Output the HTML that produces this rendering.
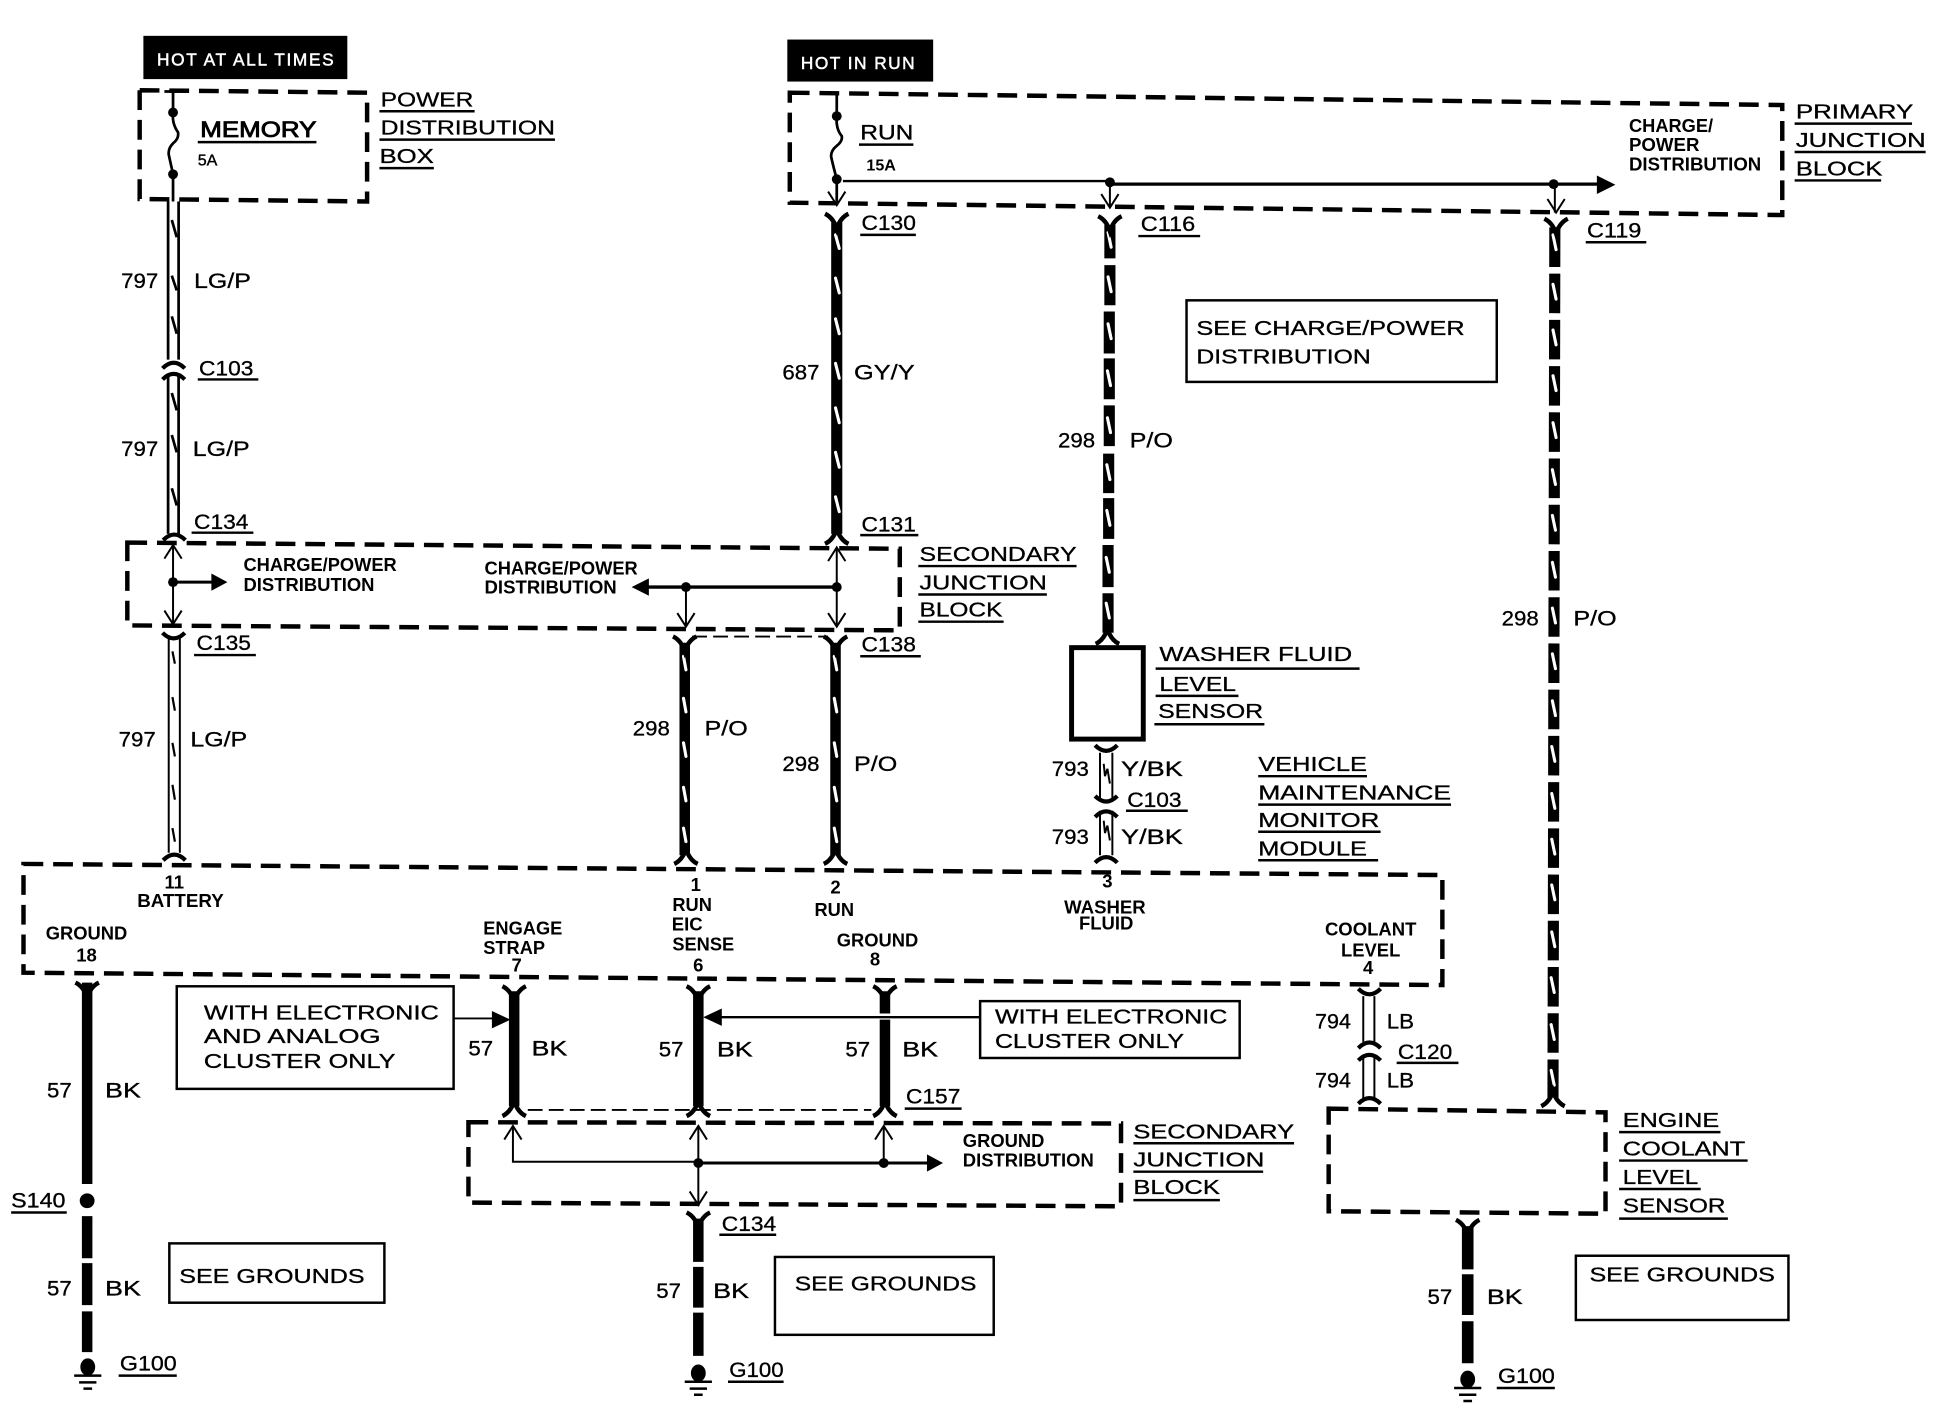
<!DOCTYPE html>
<html><head><meta charset="utf-8"><title>Wiring diagram</title>
<style>
html,body{margin:0;padding:0;background:#fff}
svg{display:block}
text{font-family:"Liberation Sans",sans-serif;fill:#000}
.l{font-size:16.500px;stroke:#000;stroke-width:.25}
.w{font-size:17px;stroke:#000;stroke-width:.25}
.b{font-size:15px;font-weight:bold}
.m{font-size:15px;font-weight:bold;text-anchor:middle}
.u{stroke:#000;stroke-width:2;fill:none}
.d{fill:none;stroke:#000;stroke-width:3.6;stroke-dasharray:16 8}
.t{fill:none;stroke:#000;stroke-width:1.6}
.n{fill:none;stroke:#000;stroke-width:2.200}
.bx{fill:#fff;stroke:#000;stroke-width:2}
</style></head><body>
<svg xmlns="http://www.w3.org/2000/svg" width="1938" height="1408" viewBox="0 0 1568 1139.2">
<defs>
<path id="fd" d="M-9.500,-7 Q-3,-4 0,5 Q3,-4 9.500,-7" fill="none" stroke="#000" stroke-width="3.6"/>
<path id="fu" d="M-9.500,7 Q-3,4 0,-5 Q3,4 9.500,7" fill="none" stroke="#000" stroke-width="3.6"/>
<path id="cn" d="M-9,4 Q0,-5 9,4" fill="none" stroke="#000" stroke-width="3.4"/>
<path id="cv" d="M-9,-4 Q0,5 9,-4" fill="none" stroke="#000" stroke-width="3.4"/>
<path id="au" d="M-7,11 L0,0 L7,11" fill="none" stroke="#000" stroke-width="1.6"/>
<path id="ad" d="M-7,-11 L0,0 L7,-11" fill="none" stroke="#000" stroke-width="1.6"/>
<g id="gnd"><ellipse cx="0" cy="-6" rx="6" ry="7"/><path d="M-11,1h22M-7,6.500h14M-3.500,11.500h7" stroke="#000" stroke-width="2"/></g>
</defs>

<rect x="116" y="29" width="165" height="35"/>
<text x="127" y="53" font-size="14" textLength="143" style="fill:#fff;stroke:#fff;stroke-width:.4">HOT AT ALL TIMES</text>
<rect x="637" y="32" width="118" height="34"/>
<text x="648" y="56" font-size="14" textLength="92" style="fill:#fff;stroke:#fff;stroke-width:.4">HOT IN RUN</text>

<!-- dashed boxes -->
<path class="d" d="M113,73 L297,75 L297,163 L113,161 Z"/>
<path class="d" d="M639,75 L1442,85 L1442,174 L639,164 Z"/>
<path class="d" d="M103,439 L728,444 L728,510 L103,506 Z"/>
<path class="d" d="M19,699 L1167,708 L1167,797 L19,787 Z"/>
<path class="d" d="M379,908 L907,909 L907,976 L379,973 Z"/>
<path class="d" d="M1075,897 L1299,900 L1299,982 L1075,980 Z"/>
<path d="M560,515H670M427,898H705" fill="none" stroke="#000" stroke-width="1.500" stroke-dasharray="12 5"/>

<!-- fuses -->
<path class="n" d="M133,74H150M140,74V91 Q139,100 144,107 Q145,112 140,116 Q136,120 136.500,125 Q138,132 140,141V163"/>
<circle cx="140" cy="91" r="4"/><circle cx="140" cy="141" r="4"/>
<path class="n" d="M677,76V94 Q676,104 681,110 Q682,114 677,118 Q672,122 672.500,127 Q674,134 677,145V165"/>
<circle cx="677" cy="94" r="4"/><circle cx="677" cy="145" r="4"/>
<use href="#ad" x="677" y="166"/>

<!-- primary bus -->
<path d="M682,146.500H898" fill="none" stroke="#000" stroke-width="2"/>
<path d="M898,149H1295" fill="none" stroke="#000" stroke-width="2.600"/>
<path d="M1292,142 L1307,149.500 L1292,157Z"/>
<circle cx="898" cy="147.500" r="4"/><circle cx="1257" cy="149" r="4"/>
<path class="t" d="M898,147V168M1258,149V172"/>
<use href="#ad" x="898" y="168"/><use href="#ad" x="1259" y="172"/>

<!-- thin double wires -->
<path class="n" d="M136,163V291M144.500,163V291M136,303V432M144.500,303V432"/>
<path class="t" d="M136.500,514V690M145.500,514V690"/>
<g fill="none" stroke="#000" stroke-width="2.200">
<path d="M139,178l4,14M139,223l4,12M139,256l4,14M139,318l4,14M139,352l4,14M139,395l4,14"/>
<path stroke-width="1.800" d="M139.500,527l2,10M139.500,564l2,11M139.500,601l2,11M139.500,635l2,12M139.500,670l2,11"/>
</g>
<use href="#cn" x="140.500" y="294"/><use href="#cn" x="140.500" y="303"/>
<use href="#cn" x="141" y="433"/><use href="#cv" x="140.500" y="516"/><use href="#cn" x="141" y="692"/>

<!-- thick wires -->
<g stroke="#000" fill="none">
<path stroke-width="9" d="M677,180V432"/>
<path stroke-width="8.500" d="M554,520V692M676,520V692"/>
<path stroke-width="9" d="M898,182V209M898,214.500V247M897.500,252V286M897.500,290V323M897.500,328V361M897,367V399M897,403V436M896.500,441V475M896.500,480V512"/>
<line x1="1258" y1="184" x2="1256.500" y2="888" stroke-width="9" stroke-dasharray="32 5.400"/>
<path stroke-width="8.500" d="M70.500,795V958M70.500,984V1018M70.500,1022V1056M70.500,1061V1094"/>
<path stroke-width="8.500" d="M416,802V895M565,802V895M716,802V820M716,825V895"/>
<path stroke-width="8.500" d="M565,986V1021M565,1025V1058M565,1062V1097"/>
<path stroke-width="9.400" d="M1187.500,992V1027M1187.500,1031V1064M1187.500,1069V1103"/>
</g>
<g stroke="#fff" stroke-width="2.500" fill="none" stroke-linecap="round">
<path d="M676,190l3,11M676,225l3,12M676,258l3,12M676,294l3,12M676,330l3,12M676,366l3,12M676,402l3,12"/>
<path d="M553,531l2,11M553,565l2,11M553,601l2,11M553,637l2,11M553,670l2,11M675,531l2,11M675,565l2,11M675,601l2,11M675,637l2,11M675,670l2,11"/>
<path d="M896.500,188l2.500,12M896.500,224l2.500,12M896.500,262l2.500,12M896,300l2.500,12M896,338l2.500,12M895.500,376l2.500,12M895.500,413l2.500,12M895,451l2.500,12M895,488l2.500,12"/>
<path d="M1256.500,190l2.500,12M1256.500,230l2.500,12M1256.500,267l2.500,12M1256.500,304l2.500,12M1256.500,342l2.500,12M1256,380l2.500,12M1256,417l2.500,12M1256,455l2.500,12M1256,492l2.500,12M1256,529l2.500,12M1256,567l2.500,12M1255.500,604l2.500,12M1255.500,642l2.500,12M1255.500,679l2.500,12M1255.500,716l2.500,12M1255.500,754l2.500,12M1255,791l2.500,12M1255,829l2.500,12M1255,866l2.500,12"/>
</g>
<use href="#fd" x="677" y="180"/><use href="#fd" x="898" y="182"/><use href="#fd" x="1259" y="184"/>
<use href="#fu" x="677" y="433"/>
<use href="#fd" x="554" y="522"/><use href="#fd" x="676" y="522"/>
<use href="#fu" x="555" y="692"/><use href="#fu" x="676" y="692"/>
<use href="#fu" x="896" y="514"/>
<use href="#fu" x="1256.500" y="888"/>
<use href="#fd" x="70.500" y="802"/>
<use href="#fd" x="416" y="805"/><use href="#fd" x="565" y="805"/><use href="#fd" x="716" y="805"/>
<use href="#fu" x="416" y="896"/><use href="#fu" x="565" y="896"/><use href="#fu" x="716" y="896"/>
<use href="#fd" x="565" y="988"/><use href="#fd" x="1187.500" y="994"/>
<circle cx="70.500" cy="971.500" r="6"/>
<use href="#gnd" x="71" y="1112"/><use href="#gnd" x="565" y="1117"/><use href="#gnd" x="1187.500" y="1122"/>

<!-- secondary junction interior -->
<path class="t" d="M140,442V505M677,444V507M555,475V507"/>
<use href="#au" x="140" y="441"/><use href="#ad" x="140" y="505"/>
<use href="#au" x="677" y="443"/><use href="#ad" x="677" y="507"/><use href="#ad" x="555" y="507"/>
<path d="M140,471H172" stroke="#000" stroke-width="2.400"/>
<path d="M171,464 L184,471 L171,478Z"/>
<circle cx="140" cy="471" r="4"/>
<path d="M522,475H677" stroke="#000" stroke-width="2.800"/>
<path d="M525,468 L511,475 L525,482Z"/>
<circle cx="555" cy="475" r="4"/><circle cx="677" cy="475" r="4"/>

<!-- sensor and small wires -->
<rect x="867" y="524" width="58" height="74" fill="#fff" stroke="#000" stroke-width="4"/>
<path class="t" d="M890,609V646M900,609V646M890,656V692M900,656V692"/>
<path class="t" d="M893,618l1,10l2,-6l2,12M893,664l1,10l2,-6l2,12"/>
<use href="#cv" x="895" y="607"/><use href="#cv" x="895" y="648"/><use href="#cn" x="895" y="657"/><use href="#cn" x="895" y="694"/>
<path class="t" d="M1103,806V843M1112,806V843M1103,856V890M1112,856V890"/>
<use href="#cv" x="1108" y="804"/><use href="#cn" x="1108" y="844"/><use href="#cn" x="1108" y="854"/><use href="#cn" x="1108" y="889"/>

<!-- note boxes -->
<rect class="bx" x="143" y="798" width="224" height="83"/>
<rect class="bx" x="793" y="810" width="210" height="46"/>
<rect class="bx" x="960" y="243" width="251" height="66"/>
<rect class="bx" x="137" y="1006" width="174" height="48"/>
<rect class="bx" x="627" y="1017" width="177" height="63"/>
<rect class="bx" x="1275" y="1016" width="172" height="52"/>
<path d="M367,824H402" stroke="#000" stroke-width="1.600"/>
<path d="M398,818 L413,825 L398,832Z"/>
<path d="M582,823H793" stroke="#000" stroke-width="2"/>
<path d="M584,816 L569,823 L584,830Z"/>

<!-- ground distribution -->
<path class="t" d="M415,912V940H565M565,912V975M715,912V941"/>
<use href="#au" x="415" y="911"/><use href="#au" x="565" y="911"/><use href="#au" x="715" y="911"/><use href="#ad" x="565" y="975"/>
<path d="M565,941H752" stroke="#000" stroke-width="2.400"/>
<path d="M750,934 L763,941 L750,948Z"/>
<circle cx="565" cy="941" r="4"/><circle cx="715" cy="941" r="4"/>

<!-- underlines -->
<path class="u" d="M307,90H384M307,113H449M307,136H351M160,115H256M160,307H209M155,431H205M157,530H207M695,117H739M696,190H741M921,191H971M1283,196H1332M1452,100H1547M1452,123H1558M1452,146H1522M696,433H743M696,531H745M743,458H871M743,481H847M743,503H812M935,541H1100M935,563H1002M934,586H1023M911,656H961M1018,628H1106M1018,651H1174M1018,673H1117M1018,696H1115M732,897H778M917,925H1047M917,948H1022M917,971H987M582,999H628M9,981H54M96,1113H143M589,1118H634M1211,1123H1258M1310,916H1392M1310,939H1414M1310,962H1376M1310,986H1398M1130,860H1180"/>

<!-- headings -->
<g class="l">
<text x="308" y="86" textLength="75" lengthAdjust="spacingAndGlyphs">POWER</text>
<text x="308" y="109" textLength="141" lengthAdjust="spacingAndGlyphs">DISTRIBUTION</text>
<text x="307" y="132" textLength="44" lengthAdjust="spacingAndGlyphs">BOX</text>
<text x="162" y="111" font-size="18" textLength="94" lengthAdjust="spacingAndGlyphs" style="stroke-width:.7">MEMORY</text>
<text x="696" y="113" font-size="17" textLength="43" lengthAdjust="spacingAndGlyphs">RUN</text>
<text x="1453" y="96" textLength="95" lengthAdjust="spacingAndGlyphs">PRIMARY</text>
<text x="1453" y="119" textLength="105" lengthAdjust="spacingAndGlyphs">JUNCTION</text>
<text x="1453" y="142" textLength="70" lengthAdjust="spacingAndGlyphs">BLOCK</text>
<text x="744" y="454" textLength="127" lengthAdjust="spacingAndGlyphs">SECONDARY</text>
<text x="744" y="477" textLength="103" lengthAdjust="spacingAndGlyphs">JUNCTION</text>
<text x="744" y="499" textLength="67" lengthAdjust="spacingAndGlyphs">BLOCK</text>
<text x="938" y="535" textLength="156" lengthAdjust="spacingAndGlyphs">WASHER FLUID</text>
<text x="938" y="559" textLength="62" lengthAdjust="spacingAndGlyphs">LEVEL</text>
<text x="937" y="581" textLength="85" lengthAdjust="spacingAndGlyphs">SENSOR</text>
<text x="1018" y="624" textLength="88" lengthAdjust="spacingAndGlyphs">VEHICLE</text>
<text x="1018" y="647" textLength="156" lengthAdjust="spacingAndGlyphs">MAINTENANCE</text>
<text x="1018" y="669" textLength="98" lengthAdjust="spacingAndGlyphs">MONITOR</text>
<text x="1018" y="692" textLength="88" lengthAdjust="spacingAndGlyphs">MODULE</text>
<text x="968" y="271" textLength="217" lengthAdjust="spacingAndGlyphs">SEE CHARGE/POWER</text>
<text x="968" y="294" textLength="141" lengthAdjust="spacingAndGlyphs">DISTRIBUTION</text>
<text x="165" y="825" textLength="190" lengthAdjust="spacingAndGlyphs">WITH ELECTRONIC</text>
<text x="165" y="844" textLength="143" lengthAdjust="spacingAndGlyphs">AND ANALOG</text>
<text x="165" y="864" textLength="155" lengthAdjust="spacingAndGlyphs">CLUSTER ONLY</text>
<text x="805" y="828" textLength="188" lengthAdjust="spacingAndGlyphs">WITH ELECTRONIC</text>
<text x="805" y="848" textLength="153" lengthAdjust="spacingAndGlyphs">CLUSTER ONLY</text>
<text x="917" y="921" textLength="130" lengthAdjust="spacingAndGlyphs">SECONDARY</text>
<text x="917" y="944" textLength="106" lengthAdjust="spacingAndGlyphs">JUNCTION</text>
<text x="917" y="966" textLength="70" lengthAdjust="spacingAndGlyphs">BLOCK</text>
<text x="1313" y="912" textLength="78" lengthAdjust="spacingAndGlyphs">ENGINE</text>
<text x="1313" y="935" textLength="99" lengthAdjust="spacingAndGlyphs">COOLANT</text>
<text x="1313" y="958" textLength="61" lengthAdjust="spacingAndGlyphs">LEVEL</text>
<text x="1313" y="981" textLength="83" lengthAdjust="spacingAndGlyphs">SENSOR</text>
<text x="145" y="1038" textLength="150" lengthAdjust="spacingAndGlyphs">SEE GROUNDS</text>
<text x="643" y="1044" textLength="147" lengthAdjust="spacingAndGlyphs">SEE GROUNDS</text>
<text x="1286" y="1037" textLength="150" lengthAdjust="spacingAndGlyphs">SEE GROUNDS</text>
</g>

<!-- wire labels -->
<g class="w">
<text x="98" y="233" textLength="30" lengthAdjust="spacingAndGlyphs">797</text><text x="157" y="233" textLength="46" lengthAdjust="spacingAndGlyphs">LG/P</text>
<text x="98" y="369" textLength="30" lengthAdjust="spacingAndGlyphs">797</text><text x="156" y="369" textLength="46" lengthAdjust="spacingAndGlyphs">LG/P</text>
<text x="96" y="604" textLength="30" lengthAdjust="spacingAndGlyphs">797</text><text x="154" y="604" textLength="46" lengthAdjust="spacingAndGlyphs">LG/P</text>
<text x="633" y="307" textLength="30" lengthAdjust="spacingAndGlyphs">687</text><text x="691" y="307" textLength="49" lengthAdjust="spacingAndGlyphs">GY/Y</text>
<text x="856" y="362" textLength="30" lengthAdjust="spacingAndGlyphs">298</text><text x="914" y="362" textLength="35" lengthAdjust="spacingAndGlyphs">P/O</text>
<text x="512" y="595" textLength="30" lengthAdjust="spacingAndGlyphs">298</text><text x="570" y="595" textLength="35" lengthAdjust="spacingAndGlyphs">P/O</text>
<text x="633" y="624" textLength="30" lengthAdjust="spacingAndGlyphs">298</text><text x="691" y="624" textLength="35" lengthAdjust="spacingAndGlyphs">P/O</text>
<text x="1215" y="506" textLength="30" lengthAdjust="spacingAndGlyphs">298</text><text x="1273" y="506" textLength="35" lengthAdjust="spacingAndGlyphs">P/O</text>
<text x="851" y="628" textLength="30" lengthAdjust="spacingAndGlyphs">793</text><text x="907" y="628" textLength="50" lengthAdjust="spacingAndGlyphs">Y/BK</text>
<text x="851" y="683" textLength="30" lengthAdjust="spacingAndGlyphs">793</text><text x="907" y="683" textLength="50" lengthAdjust="spacingAndGlyphs">Y/BK</text>
<text x="1064" y="832" textLength="29" lengthAdjust="spacingAndGlyphs">794</text><text x="1122" y="832" textLength="22" lengthAdjust="spacingAndGlyphs">LB</text>
<text x="1064" y="880" textLength="29" lengthAdjust="spacingAndGlyphs">794</text><text x="1122" y="880" textLength="22" lengthAdjust="spacingAndGlyphs">LB</text>
<text x="379" y="854" textLength="20" lengthAdjust="spacingAndGlyphs">57</text><text x="430" y="854" textLength="29" lengthAdjust="spacingAndGlyphs">BK</text>
<text x="533" y="855" textLength="20" lengthAdjust="spacingAndGlyphs">57</text><text x="580" y="855" textLength="29" lengthAdjust="spacingAndGlyphs">BK</text>
<text x="684" y="855" textLength="20" lengthAdjust="spacingAndGlyphs">57</text><text x="730" y="855" textLength="29" lengthAdjust="spacingAndGlyphs">BK</text>
<text x="38" y="888" textLength="20" lengthAdjust="spacingAndGlyphs">57</text><text x="85" y="888" textLength="29" lengthAdjust="spacingAndGlyphs">BK</text>
<text x="38" y="1048" textLength="20" lengthAdjust="spacingAndGlyphs">57</text><text x="85" y="1048" textLength="29" lengthAdjust="spacingAndGlyphs">BK</text>
<text x="531" y="1050" textLength="20" lengthAdjust="spacingAndGlyphs">57</text><text x="577" y="1050" textLength="29" lengthAdjust="spacingAndGlyphs">BK</text>
<text x="1155" y="1055" textLength="20" lengthAdjust="spacingAndGlyphs">57</text><text x="1203" y="1055" textLength="29" lengthAdjust="spacingAndGlyphs">BK</text>
<text x="161" y="304" textLength="44" lengthAdjust="spacingAndGlyphs">C103</text>
<text x="157" y="428" textLength="44" lengthAdjust="spacingAndGlyphs">C134</text>
<text x="159" y="526" textLength="44" lengthAdjust="spacingAndGlyphs">C135</text>
<text x="697" y="186" textLength="44" lengthAdjust="spacingAndGlyphs">C130</text>
<text x="923" y="187" textLength="44" lengthAdjust="spacingAndGlyphs">C116</text>
<text x="1284" y="192" textLength="44" lengthAdjust="spacingAndGlyphs">C119</text>
<text x="697" y="430" textLength="44" lengthAdjust="spacingAndGlyphs">C131</text>
<text x="697" y="527" textLength="44" lengthAdjust="spacingAndGlyphs">C138</text>
<text x="912" y="653" textLength="44" lengthAdjust="spacingAndGlyphs">C103</text>
<text x="1131" y="857" textLength="44" lengthAdjust="spacingAndGlyphs">C120</text>
<text x="733" y="893" textLength="44" lengthAdjust="spacingAndGlyphs">C157</text>
<text x="584" y="996" textLength="44" lengthAdjust="spacingAndGlyphs">C134</text>
<text x="9" y="977" textLength="44" lengthAdjust="spacingAndGlyphs">S140</text>
<text x="97" y="1109" textLength="46" lengthAdjust="spacingAndGlyphs">G100</text>
<text x="590" y="1114" textLength="44" lengthAdjust="spacingAndGlyphs">G100</text>
<text x="1212" y="1119" textLength="46" lengthAdjust="spacingAndGlyphs">G100</text>
</g>
<text x="160" y="134" font-size="13" style="stroke:#000;stroke-width:.3">5A</text>
<text x="701" y="138" font-size="13" font-weight="bold">15A</text>

<!-- bold labels -->
<g class="b">
<text x="1318" y="107" textLength="68" lengthAdjust="spacingAndGlyphs">CHARGE/</text>
<text x="1318" y="122" textLength="57" lengthAdjust="spacingAndGlyphs">POWER</text>
<text x="1318" y="138" textLength="107" lengthAdjust="spacingAndGlyphs">DISTRIBUTION</text>
<text x="197" y="462" textLength="124" lengthAdjust="spacingAndGlyphs">CHARGE/POWER</text>
<text x="197" y="478" textLength="106" lengthAdjust="spacingAndGlyphs">DISTRIBUTION</text>
<text x="392" y="465" textLength="124" lengthAdjust="spacingAndGlyphs">CHARGE/POWER</text>
<text x="392" y="480" textLength="107" lengthAdjust="spacingAndGlyphs">DISTRIBUTION</text>
<text x="779" y="928" textLength="66" lengthAdjust="spacingAndGlyphs">GROUND</text>
<text x="779" y="944" textLength="106" lengthAdjust="spacingAndGlyphs">DISTRIBUTION</text>
</g>
<g class="m">
<text x="141" y="719">11</text>
<text x="146" y="734" textLength="70" lengthAdjust="spacingAndGlyphs">BATTERY</text>
<text x="70" y="760" textLength="66" lengthAdjust="spacingAndGlyphs">GROUND</text>
<text x="70" y="778">18</text>
<text x="563" y="721">1</text>
<text x="560" y="737" textLength="32" lengthAdjust="spacingAndGlyphs">RUN</text>
<text x="556" y="753" textLength="25" lengthAdjust="spacingAndGlyphs">EIC</text>
<text x="569" y="769" textLength="50" lengthAdjust="spacingAndGlyphs">SENSE</text>
<text x="565" y="786">6</text>
<text x="676" y="723">2</text>
<text x="675" y="741" textLength="32" lengthAdjust="spacingAndGlyphs">RUN</text>
<text x="423" y="756" textLength="64" lengthAdjust="spacingAndGlyphs">ENGAGE</text>
<text x="416" y="772" textLength="50" lengthAdjust="spacingAndGlyphs">STRAP</text>
<text x="418" y="786">7</text>
<text x="710" y="766" textLength="66" lengthAdjust="spacingAndGlyphs">GROUND</text>
<text x="708" y="781">8</text>
<text x="896" y="718">3</text>
<text x="894" y="739" textLength="66" lengthAdjust="spacingAndGlyphs">WASHER</text>
<text x="895" y="752" textLength="44" lengthAdjust="spacingAndGlyphs">FLUID</text>
<text x="1109" y="757" textLength="74" lengthAdjust="spacingAndGlyphs">COOLANT</text>
<text x="1109" y="774" textLength="48" lengthAdjust="spacingAndGlyphs">LEVEL</text>
<text x="1107" y="788">4</text>
</g>
</svg>
</body></html>
